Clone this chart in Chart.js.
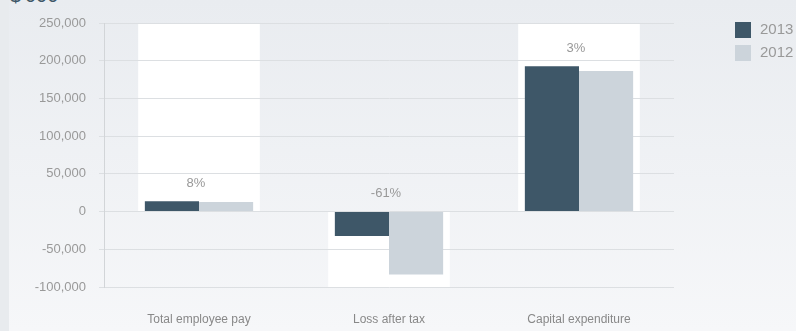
<!DOCTYPE html>
<html>
<head>
<meta charset="utf-8">
<script src="https://cdn.jsdelivr.net/npm/chart.js@4.4.1/dist/chart.umd.min.js"></script>
<style>
  html, body { margin: 0; padding: 0; }
  body {
    width: 796px; height: 331px; overflow: hidden; position: relative;
    background: #e8ebee;
    font-family: "Liberation Sans", Arial, sans-serif;
  }
  .panel {
    position: absolute; left: 9px; top: 0; right: 0; bottom: 0;
    background: linear-gradient(#e9ecf0, #f6f7f9);
  }
  .unit {
    position: absolute; left: 10px; top: -15px;
    font-size: 20px; line-height: 20px; color: #3e5768;
  }
  #chart { position: absolute; left: 0; top: 0; }
</style>
</head>
<body>
<div class="panel"></div>
<div class="unit">$'000</div>
<canvas id="chart" width="796" height="331"></canvas>
<script>
document.addEventListener('DOMContentLoaded', function() {
    // Figures in $'000
    const categories = ['Total employee pay', 'Loss after tax', 'Capital expenditure'];
    const values2013 = [13600, -32500, 192500];
    const values2012 = [12600, -83300, 186500];
    const changeLabels = ['8%', '-61%', '3%'];
    const yTicks = [250000, 200000, 150000, 100000, 50000, 0, -50000, -100000];

    const dark = '#3e5768';
    const light = '#ccd4db';

    // White column behind each category: up to the top for gains, down to the bottom for losses
    const bandPlugin = {
        id: 'bands',
        beforeDraw(chart) {
            const { ctx, scales: { x, y } } = chart;
            const step = x.getPixelForValue(1) - x.getPixelForValue(0);
            const w = step * 0.64;
            ctx.save();
            ctx.fillStyle = '#ffffff';
            categories.forEach((c, i) => {
                const cx = x.getPixelForValue(i);
                const negative = values2013[i] < 0;
                const top = negative ? y.getPixelForValue(0) : y.getPixelForValue(y.max);
                const bottom = negative ? y.getPixelForValue(y.min) : y.getPixelForValue(0);
                ctx.fillRect(cx - w / 2, top, w, bottom - top);
            });
            ctx.restore();
        }
    };

    // Year-on-year change above each pair of bars
    const changePlugin = {
        id: 'changes',
        afterDatasetsDraw(chart) {
            const { ctx, scales: { x, y } } = chart;
            ctx.save();
            ctx.font = '13px "Liberation Sans", Arial, sans-serif';
            ctx.fillStyle = '#999999';
            ctx.textAlign = 'center';
            ctx.textBaseline = 'middle';
            changeLabels.forEach((t, i) => {
                const top = Math.max(0, values2013[i], values2012[i]);
                ctx.fillText(t, x.getPixelForValue(i) - 3, y.getPixelForValue(top) - 18);
            });
            ctx.restore();
        }
    };

    // Legend at the top right
    const legendPlugin = {
        id: 'sideLegend',
        afterDraw(chart) {
            const { ctx } = chart;
            ctx.save();
            ctx.font = '15px "Liberation Sans", Arial, sans-serif';
            ctx.textBaseline = 'middle';
            chart.data.datasets.forEach((ds, i) => {
                const top = 22 + i * 23;
                ctx.fillStyle = ds.backgroundColor;
                ctx.fillRect(735, top, 16, 16);
                ctx.fillStyle = '#999999';
                ctx.fillText(ds.label, 760, top + 8);
            });
            ctx.restore();
        }
    };

    new Chart(document.getElementById('chart'), {
        type: 'bar',
        data: {
            labels: categories,
            datasets: [
                { label: '2013', data: values2013, backgroundColor: dark },
                { label: '2012', data: values2012, backgroundColor: light }
            ]
        },
        options: {
            responsive: false,
            animation: false,
            layout: { padding: { left: 0, right: 122, top: 23, bottom: 4 } },
            datasets: { bar: { categoryPercentage: 0.57, barPercentage: 1.0 } },
            plugins: {
                legend: { display: false },
                tooltip: { enabled: false }
            },
            scales: {
                x: {
                    afterFit(scale) { scale.height = 40; },
                    grid: { display: false },
                    border: { display: false },
                    ticks: {
                        color: '#888888',
                        padding: 17,
                        maxRotation: 0,
                        font: { family: '"Liberation Sans", Arial, sans-serif', size: 12 }
                    }
                },
                y: {
                    min: -100000,
                    max: 250000,
                    afterFit(scale) { scale.width = 104; },
                    afterBuildTicks(scale) { scale.ticks = yTicks.map(v => ({ value: v })); },
                    grid: { color: '#dcdfe2', tickLength: 5, tickColor: '#dcdfe2' },
                    border: { color: '#d2d5d8' },
                    ticks: {
                        color: '#999999',
                        padding: 13,
                        font: { family: '"Liberation Sans", Arial, sans-serif', size: 13 },
                        callback: v => v.toLocaleString('en-US')
                    }
                }
            }
        },
        plugins: [bandPlugin, changePlugin, legendPlugin]
    });
});
</script>
</body>
</html>
